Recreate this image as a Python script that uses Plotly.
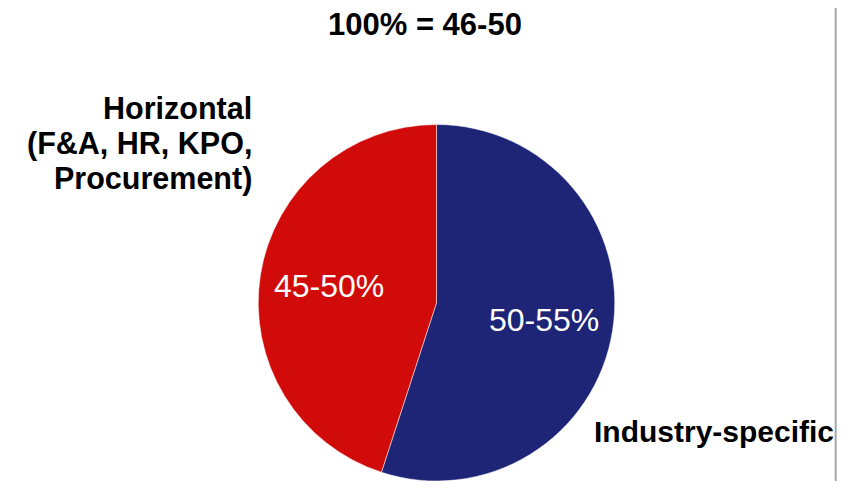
import math
import plotly.graph_objects as go

categories = ["Industry-specific", "Horizontal (F&A, HR, KPO, Procurement)"]
values = [55, 45]
range_labels = ["50-55%", "45-50%"]
colors = ["#1E2476", "#D10B09"]
title_text = "100% = 46-50"
horizontal_lines = ["Horizontal", "(F&A, HR, KPO,", "Procurement)"]

FONT = "Arial, 'Liberation Sans', sans-serif"
# page body adds an 8px margin, so the figure is slightly smaller than the window
W, H = 847, 473

# pie geometry (figure pixels)
CX, CY_TOP, R = 428.5, 116.5, 178.5
dom_x = [(CX - R) / W, (CX + R) / W]
dom_y = [0, 1 - CY_TOP / H]
r_px = min(2 * R, H - CY_TOP) / 2
cy = CY_TOP + r_px

fig = go.Figure()
fig.add_trace(go.Pie(
    labels=categories,
    values=values,
    textinfo="none",
    marker=dict(colors=colors, line=dict(color="white", width=0.5)),
    sort=False,
    direction="clockwise",
    rotation=0,
    showlegend=False,
    hoverinfo="label+percent",
    domain=dict(x=dom_x, y=dom_y),
))

# slice labels placed at each slice's mid-angle
total = sum(values)
start = 0.0
for v, lab in zip(values, range_labels):
    mid = (start + v / 2) / total * 2 * math.pi
    start += v
    px = CX + 0.61 * r_px * math.sin(mid)
    py = cy - 0.61 * r_px * math.cos(mid)
    fig.add_annotation(
        text=lab, x=px / W, y=1 - py / H, xref="paper", yref="paper",
        xanchor="center", yanchor="middle", showarrow=False,
        font=dict(family=FONT, size=32, color="white"),
    )

def ann(text, x, y, xanchor, size=30):
    fig.add_annotation(
        text=f"<b>{text}</b>",
        x=x / W, y=1 - y / H, xref="paper", yref="paper",
        xanchor=xanchor, yanchor="middle", showarrow=False,
        font=dict(family=FONT, size=size, color="black"),
    )

ann(title_text, 417, 17, "center", size=31)
ys = [100.5, 135.5, 170.5]
for line, yy in zip(horizontal_lines, ys):
    ann(line, 246, yy, "right", size=30.5)
ann(categories[0], 828, 423, "right", size=30)

fig.add_shape(type="line", xref="paper", yref="paper",
              x0=827.7 / W, x1=827.7 / W, y0=-0.05, y1=1.05,
              line=dict(color="#A6A6A6", width=2))

fig.update_layout(
    width=W, height=H,
    margin=dict(l=0, r=0, t=0, b=0),
    paper_bgcolor="white", plot_bgcolor="white",
    font=dict(family=FONT),
)

fig.write_html("out.html")
